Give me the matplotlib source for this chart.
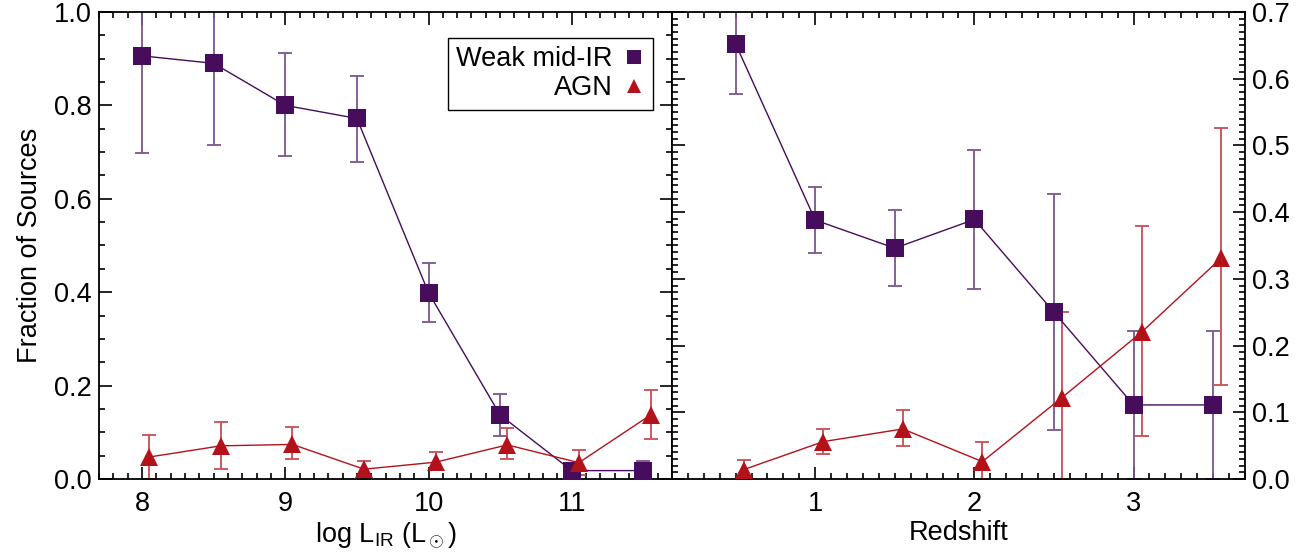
import numpy as np
import matplotlib
matplotlib.use('Agg')
import matplotlib.pyplot as plt
from matplotlib.ticker import MultipleLocator
from matplotlib.lines import Line2D

plt.rcParams['font.family'] = ['Liberation Sans', 'DejaVu Sans']
plt.rcParams['mathtext.fontset'] = 'custom'
plt.rcParams['mathtext.rm'] = 'Liberation Sans'
plt.rcParams['mathtext.it'] = 'Liberation Sans'

# fraction vs infrared luminosity
lir = [8.0, 8.5, 9.0, 9.5, 10.0, 10.5, 11.0, 11.5]
weak_lir = [0.906, 0.890, 0.800, 0.772, 0.399, 0.137, 0.018, 0.018]
weak_lir_lo = [0.698, 0.715, 0.691, 0.678, 0.337, 0.093, 0.018, 0.0]
weak_lir_hi = [1.12, 1.07, 0.913, 0.862, 0.462, 0.182, 0.018, 0.039]
agn_lir = [0.047, 0.071, 0.074, 0.021, 0.036, 0.073, 0.035, 0.137]
agn_lir_lo = [0.0, 0.021, 0.043, 0.0, 0.021, 0.043, 0.009, 0.086]
agn_lir_hi = [0.095, 0.123, 0.112, 0.038, 0.058, 0.110, 0.062, 0.191]

# fraction vs redshift
zbin = [0.5, 1.0, 1.5, 2.0, 2.5, 3.0, 3.5]
weak_z = [0.652, 0.388, 0.346, 0.389, 0.250, 0.111, 0.111]
weak_z_lo = [0.577, 0.339, 0.289, 0.285, 0.073, 0.0, 0.0]
weak_z_hi = [0.78, 0.437, 0.403, 0.493, 0.427, 0.222, 0.222]
agn_z = [0.014, 0.056, 0.075, 0.026, 0.122, 0.220, 0.331]
agn_z_lo = [0.0, 0.038, 0.050, 0.0, 0.0, 0.065, 0.141]
agn_z_hi = [0.029, 0.075, 0.103, 0.056, 0.250, 0.379, 0.526]

AGN_SHIFT = 0.05
purple = '#470c5c'
purple_err = '#7a5690'
red = '#b3121b'
red_err = '#cc4c55'
FS = 19.5


def draw(ax, x, y, lo, hi, color, ecolor, marker, ms, shift=0.0):
    x = np.asarray(x) + shift
    y = np.asarray(y)
    yerr = [y - np.asarray(lo), np.asarray(hi) - y]
    ax.errorbar(x, y, yerr=yerr, fmt='none', ecolor=ecolor, elinewidth=1.3,
                capsize=5, capthick=1.3, zorder=2)
    ax.plot(x, y, '-', color=color, lw=1.0, zorder=3)
    ax.plot(x, y, linestyle='none', marker=marker, ms=ms, color=color,
            markeredgewidth=0, zorder=4)


def style(ax):
    ax.tick_params(which='both', direction='in', top=True, bottom=True,
                   left=True, right=True, labelsize=FS, width=1.2)
    ax.tick_params(axis='x', pad=9)
    ax.tick_params(axis='y', pad=5)
    ax.tick_params(which='major', length=9)
    ax.tick_params(which='minor', length=4.5)
    for sp in ax.spines.values():
        sp.set_linewidth(1.3)


fig = plt.figure(figsize=(13.12, 5.54), dpi=100)
ax1 = fig.add_axes([0.0755, 0.1354, 0.4367, 0.843])
ax2 = fig.add_axes([0.5122, 0.1354, 0.4367, 0.843])

draw(ax1, lir, weak_lir, weak_lir_lo, weak_lir_hi, purple, purple_err, 's', 12.5)
draw(ax1, lir, agn_lir, agn_lir_lo, agn_lir_hi, red, red_err, '^', 13, AGN_SHIFT)
ax1.set_xlim(7.7, 11.7)
ax1.set_ylim(0, 1.0)
ax1.xaxis.set_major_locator(MultipleLocator(1))
ax1.xaxis.set_minor_locator(MultipleLocator(0.1))
ax1.yaxis.set_major_locator(MultipleLocator(0.2))
ax1.yaxis.set_minor_locator(MultipleLocator(0.05))
ax1.set_yticks([0, 0.2, 0.4, 0.6, 0.8, 1.0])
ax1.set_yticklabels(['0.0', '0.2', '0.4', '0.6', '0.8', '1.0'])
style(ax1)
ax1.set_xlabel(r'log L$_{\rm IR}$ (L$_\odot$)', fontsize=FS, labelpad=2)
ax1.set_ylabel('Fraction of Sources', fontsize=FS, labelpad=8)

handles = [Line2D([], [], linestyle='none', marker='s', ms=9.5, color=purple, markeredgewidth=0),
           Line2D([], [], linestyle='none', marker='^', ms=10.5, color=red, markeredgewidth=0)]
leg = ax1.legend(handles, ['Weak mid-IR', 'AGN'], loc='upper right',
                 bbox_to_anchor=(0.967, 0.944), borderaxespad=0, markerfirst=False,
                 fontsize=FS, frameon=True, fancybox=False, framealpha=1,
                 edgecolor='black', handlelength=0.8, handletextpad=0.4,
                 labelspacing=0.12, borderpad=0.3)
leg.get_frame().set_linewidth(1.0)

draw(ax2, zbin, weak_z, weak_z_lo, weak_z_hi, purple, purple_err, 's', 12.5)
draw(ax2, zbin, agn_z, agn_z_lo, agn_z_hi, red, red_err, '^', 13, AGN_SHIFT)
ax2.set_xlim(0.1, 3.7)
ax2.set_ylim(0, 0.7)
ax2.xaxis.set_major_locator(MultipleLocator(1))
ax2.xaxis.set_minor_locator(MultipleLocator(0.1))
ax2.yaxis.set_major_locator(MultipleLocator(0.1))
ax2.yaxis.set_minor_locator(MultipleLocator(0.01))
style(ax2)
ax2.tick_params(labelleft=False, labelright=True)
ax2.set_xlabel('Redshift', fontsize=FS, labelpad=2)

fig.savefig('out.png', dpi=100)
